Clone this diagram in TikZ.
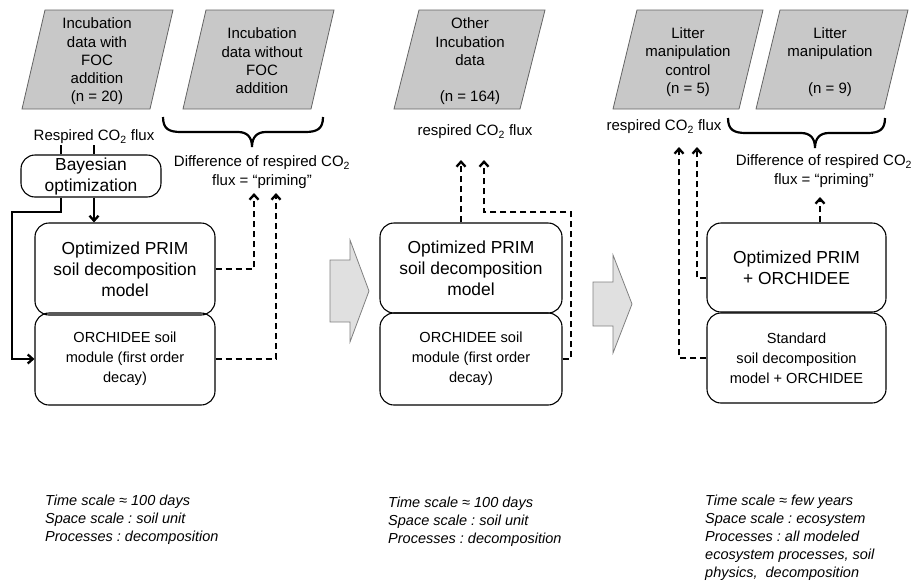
\documentclass[tikz,border=0pt]{standalone}
\usepackage{fontspec}
\setmainfont{Liberation Sans}
\usetikzlibrary{arrows.meta}
\frenchspacing
\definecolor{parafill}{RGB}{200,200,200}
\definecolor{paraedge}{RGB}{100,100,100}
\definecolor{bigfill}{RGB}{224,224,224}
\definecolor{bigedge}{RGB}{128,128,128}
\newcommand\fs[2]{\fontsize{#1}{#2}\selectfont}
\newcommand\curlybrace[4]{% x0, x1, xtip, ytop
  \draw[bracestyle] (#1,#4) .. controls (#1,#4+12) and (#1+6,#4+15) .. (#1+18,#4+15)
    -- (#3-14,#4+15) .. controls (#3-5,#4+15) and (#3,#4+20) .. (#3,#4+30)
    .. controls (#3,#4+20) and (#3+5,#4+15) .. (#3+14,#4+15)
    -- (#2-18,#4+15) .. controls (#2-6,#4+15) and (#2,#4+12) .. (#2,#4);}
\begin{document}
\begin{tikzpicture}[x=1pt,y=-1pt,
  para/.style={fill=parafill,draw=paraedge,line width=0.8pt},
  paratext/.style={align=center,font=\fs{15}{18.3},inner sep=0pt},
  flux/.style={align=center,font=\fs{15}{18.5},inner sep=1pt},
  model/.style={draw,line width=1.1pt,rounded corners=14pt,align=center,inner sep=0pt},
  bigtxt/.style={font=\fs{17.4}{21}},
  smalltxt/.style={font=\fs{14.6}{20}},
  bigarrow/.style={fill=bigfill,draw=bigedge,line width=0.8pt},
  solidarrow/.style={line width=2.3pt,-{Straight Barb[length=5pt,width=9pt]}},
  dasharrow/.style={line width=2.3pt,dash pattern=on 6pt off 4pt,-{Straight Barb[length=5pt,width=9pt]}},
  bracestyle/.style={line width=2.2pt},
  note/.style={align=left,anchor=north west,inner sep=0pt,font=\fs{14.5}{18}\itshape}
]
\useasboundingbox (0,0) rectangle (915,581);

% ---------- data parallelograms ----------
\path[para] (22,109) -- (45,10) -- (173,10) -- (150,109) -- cycle;
\path[para] (183,109) -- (206,10) -- (334,10) -- (311,109) -- cycle;
\path[para] (394,109) -- (419,10) -- (545,10) -- (520,109) -- cycle;
\path[para] (613,109) -- (637,10) -- (763,10) -- (739,109) -- cycle;
\path[para] (756,109) -- (780,10) -- (908,10) -- (884,109) -- cycle;

\node[paratext] (p1) at (97,61.5) {Incubation\\data with\\FOC\\addition\\(n = 20)};
\node[paratext] (p2) at (262,61) {Incubation\\data without\\FOC\\addition};
\node[paratext] (p3) at (470,61.5) {Other\\Incubation\\data\\~\\(n = 164)};
\node[paratext] (p4) at (688,62) {Litter\\manipulation\\control\\(n = 5)};
\node[paratext] (p5) at (830,62) {Litter\\manipulation\\~\\(n = 9)};

% ---------- braces ----------
\curlybrace{163}{323}{252}{117}
\curlybrace{728}{885}{815}{118}

% ---------- flux labels ----------
\node[flux] (resp1) at (94,137) {Respired CO\textsubscript{2} flux};
\node[flux] (diff1) at (262,172) {Difference of respired CO\textsubscript{2}\\flux = “priming”};
\node[flux] (resp2) at (475,132) {respired CO\textsubscript{2} flux};
\node[flux] (resp3) at (664,127) {respired CO\textsubscript{2} flux};
\node[flux] (diff3) at (824,171) {Difference of respired CO\textsubscript{2}\\flux = “priming”};

% ---------- model boxes ----------
\node[model,bigtxt,minimum width=140,minimum height=42] (bayes) at (91,176) {Bayesian\\optimization};
\node[model,bigtxt,minimum width=180,minimum height=92] (prim1) at (125,269) {Optimized PRIM\\soil decomposition\\model};
\node[model,smalltxt,minimum width=180,minimum height=92] (orch1) at (125,359) {ORCHIDEE soil\\module (first order\\decay)};
\node[model,bigtxt,minimum width=182,minimum height=90] (prim2) at (471,268) {Optimized PRIM\\soil decomposition\\model};
\node[model,smalltxt,minimum width=182,minimum height=92] (orch2) at (471,359) {ORCHIDEE soil\\module (first order\\decay)};
\node[model,bigtxt,minimum width=179,minimum height=89] (prim3) at (796.5,267.5) {Optimized PRIM\\+ ORCHIDEE};
\node[model,smalltxt,minimum width=179,minimum height=90] (std) at (796.5,358) {Standard\\soil decomposition\\model + ORCHIDEE};

% ---------- block arrows ----------
\path[bigarrow] (330,260) -- (350,260) -- (350,240) -- (369,291) -- (350,342) -- (350,322) -- (330,322) -- cycle;
\path[bigarrow] (593,282) -- (613,282) -- (613,255) -- (632,304) -- (613,353) -- (613,326) -- (593,326) -- cycle;

% ---------- helper coordinates ----------
\coordinate (c61) at (61,0);
\coordinate (c94) at (94,0);
\coordinate (c461) at (461,0);
\coordinate (c820) at (820,0);
\coordinate (r278) at (0,278);
\coordinate (k1) at (12,212);
\coordinate (m1) at (571,212);
\coordinate (t1) at (254,193);
\coordinate (t2) at (276,193);
\coordinate (t3) at (461,160);
\coordinate (t4) at (484,160);
\coordinate (t5) at (820,197);
\coordinate (t6) at (697,147);
\coordinate (t7) at (679,147);

% ---------- left column connectors ----------
\draw[line width=2.3pt] (bayes.north -| c61) -- (resp1.south -| c61);
\draw[line width=2.3pt] (bayes.north -| c94) -- (resp1.south -| c94);
\draw[solidarrow] (bayes.south -| c94) -- (prim1.north -| c94);
\draw[solidarrow] (bayes.south -| c61) |- (k1) |- (orch1.west);
\draw[dasharrow] (prim1.east) -| (t1);
\draw[dasharrow] (orch1.east) -| (t2);

% ---------- middle column connectors ----------
\draw[dasharrow] (prim2.north -| c461) -- (t3);
\draw[dasharrow] (orch2.east) -| (m1) -| (t4);

% ---------- right column connectors ----------
\draw[dasharrow] (prim3.north -| c820) -- (t5);
\draw[dasharrow] (prim3.west |- r278) -| (t6);
\draw[dasharrow] (std.west) -| (t7);

% ---------- notes ----------
\node[note] (n1) at (45,495) {Time scale ≈ 100 days\\Space scale : soil unit\\Processes : decomposition};
\node[note] (n2) at (388,497) {Time scale ≈ 100 days\\Space scale : soil unit\\Processes : decomposition};
\node[note] (n3) at (705,495) {Time scale ≈ few years\\Space scale : ecosystem\\Processes : all modeled\\ecosystem processes, soil\\physics, \ decomposition};
\end{tikzpicture}
\end{document}
